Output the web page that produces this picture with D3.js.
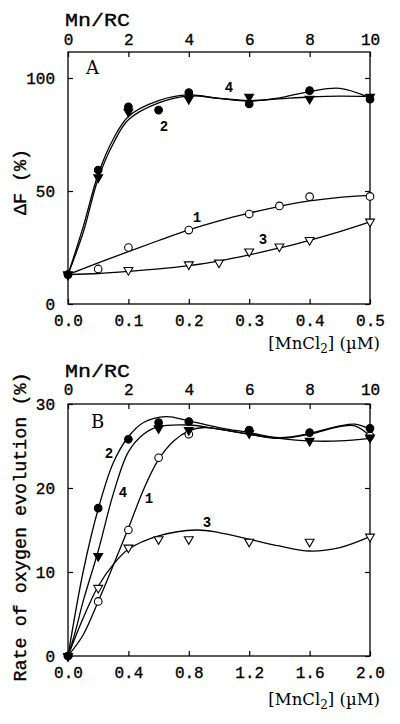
<!DOCTYPE html>
<html><head><meta charset="utf-8">
<script src="https://cdn.jsdelivr.net/npm/d3@7"></script>
<style>html,body{margin:0;padding:0;background:#fff;}svg{display:block;}</style>
</head><body>
<svg id="c" width="400" height="724"></svg>
<script>
// ---------- Panel A data (x in µM, y = ΔF %) ----------
const A_xTicks = [0, 0.1, 0.2, 0.3, 0.4, 0.5];
const A_yTicks = [0, 50, 100];
const mnTicks = [0, 2, 4, 6, 8, 10];
const A_pts1 = [[0,13],[0.05,15.5],[0.1,25],[0.2,32.7],[0.3,39.8],[0.35,43.4],[0.4,47.5],[0.5,47.6]];
const A_pts2 = [[0,13],[0.05,59.3],[0.1,87.2],[0.15,85.8],[0.2,93.5],[0.3,88.5],[0.4,94.4],[0.5,90.6]];
const A_pts3 = [[0,13],[0.1,15],[0.2,17.5],[0.25,18.3],[0.3,23.2],[0.35,25.4],[0.4,28.3],[0.5,36.4]];
const A_pts4 = [[0,13],[0.05,56],[0.1,85],[0.2,90.7],[0.3,91.7],[0.4,90.8],[0.5,91.7]];
const A_fit1 = [[0,13],[0.05,18.2],[0.1,23.2],[0.15,28.1],[0.2,32.8],[0.25,36.8],[0.3,40.2],[0.35,43.2],[0.4,45.6],[0.45,47.2],[0.5,48.1]];
const A_fit2 = [[0,13],[0.025,34],[0.05,57.5],[0.075,73],[0.1,83],[0.15,90],[0.2,92.5],[0.25,91],[0.3,89.8],[0.35,91.2],[0.4,94],[0.45,95.4],[0.5,91.2]];
const A_fit3 = [[0,13],[0.05,13.5],[0.1,14.4],[0.15,15.5],[0.2,17],[0.25,19],[0.3,21.7],[0.35,24.8],[0.4,28.2],[0.45,32],[0.5,36.3]];
const A_fit4 = [[0,13],[0.025,31.5],[0.05,55.5],[0.075,71],[0.1,81.5],[0.15,89],[0.2,92],[0.25,91],[0.3,90],[0.35,90.8],[0.4,91.6],[0.45,92],[0.5,91.8]];
const A_labels = [["1",0.2136,38.3],["2",0.159,78.5],["3",0.3228,28.5],["4",0.2666,95.8]];

// ---------- Panel B data (x in µM, y = rate %) ----------
const B_xTicks = [0, 0.4, 0.8, 1.2, 1.6, 2.0];
const B_yTicks = [0, 10, 20, 30];
const B_pts1 = [[0,0],[0.2,6.5],[0.4,15],[0.6,23.6],[0.8,26.4],[2.0,26.2]];
const B_pts2 = [[0,0],[0.2,17.6],[0.4,25.8],[0.6,27.8],[0.8,27.9],[1.2,26.9],[1.6,26.6],[2.0,27.1]];
const B_pts3 = [[0,0],[0.2,8.1],[0.4,12.9],[0.6,13.9],[0.8,13.9],[1.2,13.6],[1.6,13.6],[2.0,14.2]];
const B_pts4 = [[0,0],[0.2,11.9],[0.6,27.1],[0.8,26.9],[1.2,26.5],[1.6,25.6],[2.0,26.0]];
const B_fit1 = [[0,0],[0.1,2.5],[0.2,6.5],[0.3,10.8],[0.4,15.2],[0.5,19.8],[0.6,23.4],[0.7,25.6],[0.8,26.8],[0.9,27.2],[1.0,27.0],[1.2,26.4],[1.4,25.9],[1.6,26.4],[1.8,27.3],[1.9,27.4],[2.0,26.2]];
const B_fit2 = [[0,0],[0.1,10],[0.2,17.5],[0.3,23],[0.4,26.1],[0.5,27.8],[0.65,28.5],[0.8,28.0],[1.0,27.2],[1.2,26.6],[1.4,26.0],[1.6,26.5],[1.8,27.4],[1.9,27.6],[2.0,27.0]];
const B_fit3 = [[0,0],[0.1,4.5],[0.2,8.3],[0.3,10.9],[0.4,12.7],[0.6,14.3],[0.85,15.0],[1.0,14.7],[1.2,13.9],[1.4,13.1],[1.6,12.5],[1.8,12.9],[2.0,14.2]];
const B_fit4 = [[0,0],[0.05,3],[0.1,6.5],[0.2,12.5],[0.3,19.3],[0.4,24.3],[0.5,26.4],[0.6,27.3],[0.8,27.5],[1.0,27.0],[1.2,26.4],[1.4,25.9],[1.6,25.6],[1.8,25.6],[2.0,25.9]];
const B_labels = [["1",0.536,18.75],["2",0.2715,24.1],["3",0.9205,15.9],["4",0.364,19.5]];

const MONO = "'Liberation Mono', 'Courier New', monospace";
const SERIF = "'DejaVu Serif', serif";
const svg = d3.select("#c");

function panel(opt) {
  const x = d3.scaleLinear().domain(opt.xDom).range([68, 370]);
  const y = d3.scaleLinear().domain(opt.yDom).range(opt.yRange);
  const mn = d3.scaleLinear().domain([0, 10]).range([68, 370]);
  const g = svg.append("g");
  const y0 = opt.yRange[0], y1 = opt.yRange[1];

  // frame
  g.append("rect").attr("x", 68).attr("y", y1).attr("width", 302).attr("height", y0 - y1)
    .attr("fill", "none").attr("stroke", "#000").attr("stroke-width", 1.3);

  const styleAxis = (sel, fs) => {
    sel.select(".domain").remove();
    sel.selectAll(".tick line").attr("stroke", "#000").attr("stroke-width", 1.2);
    sel.selectAll(".tick text").attr("fill", "#000").attr("stroke", "#000").attr("stroke-width", 0.35)
      .style("font-family", MONO).style("font-size", fs + "px");
  };
  // bottom
  g.append("g").attr("transform", `translate(0,${y0})`)
    .call(d3.axisBottom(x).tickValues(opt.xTicks).tickFormat(d3.format(".1f")).tickSize(-5).tickPadding(opt.bPad))
    .call(s => styleAxis(s, 16));
  // top (Mn/RC)
  g.append("g").attr("transform", `translate(0,${y1})`)
    .call(d3.axisTop(mn).tickValues(mnTicks).tickFormat(d3.format("d")).tickSize(-5).tickPadding(opt.tPad))
    .call(s => styleAxis(s, 16));
  // left
  g.append("g").attr("transform", `translate(68,0)`)
    .call(d3.axisLeft(y).tickValues(opt.yTicks).tickSize(-5).tickPadding(13))
    .call(s => styleAxis(s, 16));
  // right
  g.append("g").attr("transform", `translate(370,0)`)
    .call(d3.axisRight(y).tickValues(opt.yTicks).tickSize(-5).tickFormat(""))
    .call(s => styleAxis(s, 16));

  // Mn/RC title
  g.append("text").attr("x", 65).attr("y", opt.mnY).text("Mn/RC")
    .attr("textLength", 65).attr("lengthAdjust", "spacingAndGlyphs")
    .attr("stroke", "#000").attr("stroke-width", 0.35)
    .style("font-family", MONO).style("font-size", "19px");
  // x title
  const xt = g.append("text").attr("x", 380).attr("y", opt.xTitleY).attr("text-anchor", "end")
    .style("font-family", SERIF).style("font-size", "16.5px");
  xt.append("tspan").text("[MnCl");
  xt.append("tspan").attr("dy", 4).style("font-size", "12px").text("2");
  xt.append("tspan").attr("dy", -4).text("] (\u00B5M)");
  // y title
  g.append("text").attr("transform", `translate(26,${opt.yTitleC}) rotate(-90)`)
    .attr("text-anchor", "middle").text(opt.yTitle)
    .attr("textLength", opt.yTitleLen).attr("lengthAdjust", "spacingAndGlyphs")
    .attr("stroke", "#000").attr("stroke-width", 0.35)
    .style("font-family", MONO).style("font-size", "18px");
  // panel letter
  g.append("text").attr("x", opt.letterX).attr("y", opt.letterY).text(opt.letter)
    .style("font-family", SERIF).style("font-size", "18px");

  // curves
  const line = d3.line().x(d => x(d[0])).y(d => y(d[1])).curve(d3.curveCatmullRom.alpha(0.5));
  opt.fits.forEach(f => g.append("path").attr("d", line(f)).attr("fill", "none")
    .attr("stroke", "#000").attr("stroke-width", 1.3));

  // markers
  const tri = d3.symbol().type(d3.symbolTriangle).size(34);
  const drawTri = (pts, filled) => g.append("g").selectAll("path").data(pts).join("path")
    .attr("d", tri).attr("transform", d => `translate(${x(d[0])},${y(d[1])}) rotate(180)`)
    .attr("fill", filled ? "#000" : "#fff").attr("stroke", "#000").attr("stroke-width", 1.1);
  const drawCirc = (pts, filled) => g.append("g").selectAll("circle").data(pts).join("circle")
    .attr("cx", d => x(d[0])).attr("cy", d => y(d[1])).attr("r", 3.8)
    .attr("fill", filled ? "#000" : "#fff").attr("stroke", "#000").attr("stroke-width", 1.1);
  drawTri(opt.pts3, false);
  drawCirc(opt.pts1, false);
  drawTri(opt.pts4, true);
  drawCirc(opt.pts2, true);

  // curve labels
  g.append("g").selectAll("text").data(opt.labels).join("text")
    .attr("x", d => x(d[1])).attr("y", d => y(d[2])).attr("dy", "0.35em")
    .attr("text-anchor", "middle").text(d => d[0])
    .style("font-family", MONO).style("font-size", "14px").style("font-weight", "bold");
}

panel({
  xDom: [0, 0.5], yDom: [0, 111.5], yRange: [304, 52],
  xTicks: A_xTicks, yTicks: A_yTicks, bPad: 11, tPad: 7,
  mnY: 26, xTitleY: 349, yTitle: "\u0394F (%)", yTitleC: 182, yTitleLen: 66,
  letter: "A", letterX: 86, letterY: 74,
  pts1: A_pts1, pts2: A_pts2, pts3: A_pts3, pts4: A_pts4,
  fits: [A_fit1, A_fit2, A_fit3, A_fit4], labels: A_labels
});
panel({
  xDom: [0, 2], yDom: [0, 30], yRange: [656, 404],
  xTicks: B_xTicks, yTicks: B_yTicks, bPad: 11, tPad: 9,
  mnY: 377, xTitleY: 705, yTitle: "Rate of oxygen evolution (%)", yTitleC: 527, yTitleLen: 309,
  letter: "B", letterX: 91, letterY: 428,
  pts1: B_pts1, pts2: B_pts2, pts3: B_pts3, pts4: B_pts4,
  fits: [B_fit1, B_fit2, B_fit3, B_fit4], labels: B_labels
});
</script>
</body></html>
